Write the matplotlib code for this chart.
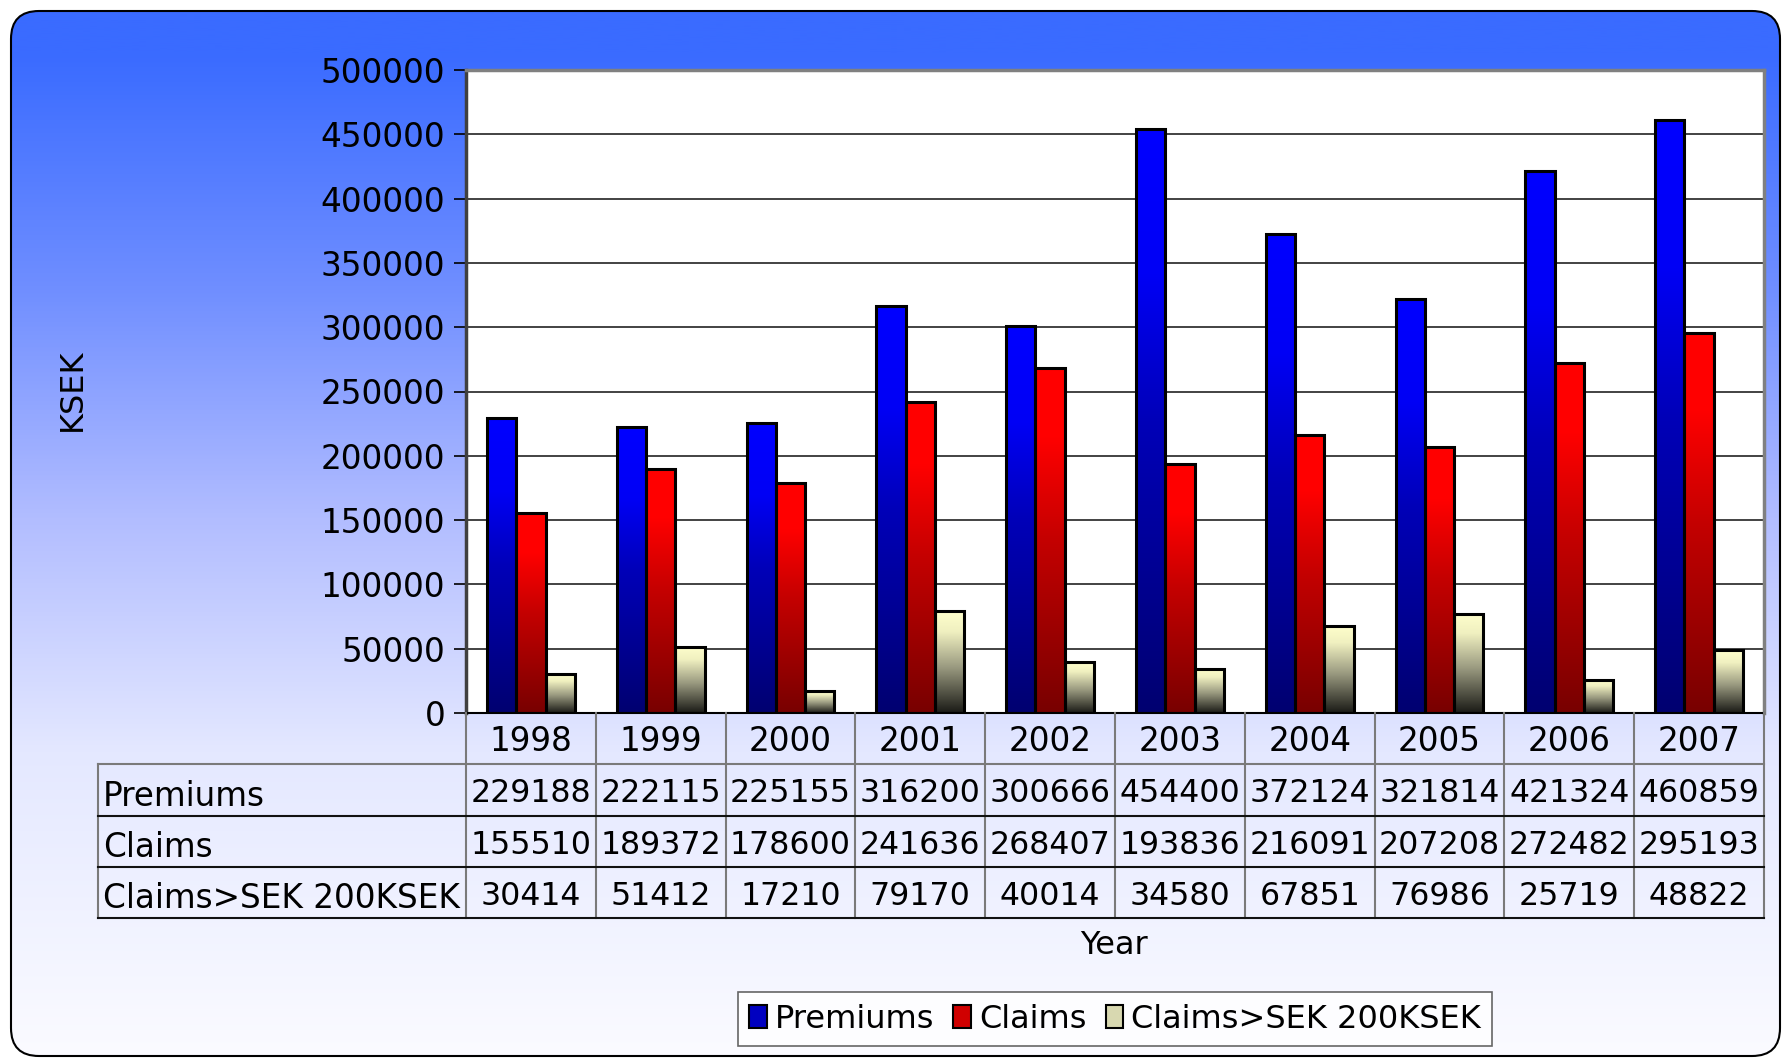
import numpy as np
import matplotlib
matplotlib.use('Agg')
import matplotlib.pyplot as plt
from matplotlib.colors import LinearSegmentedColormap
from matplotlib.patches import FancyBboxPatch, Patch
import matplotlib.transforms as mtransforms

years = ['1998', '1999', '2000', '2001', '2002', '2003', '2004', '2005', '2006', '2007']
series = ['Premiums', 'Claims', 'Claims>SEK 200KSEK']
premiums = [229188, 222115, 225155, 316200, 300666, 454400, 372124, 321814, 421324, 460859]
claims = [155510, 189372, 178600, 241636, 268407, 193836, 216091, 207208, 272482, 295193]
claims_big = [30414, 51412, 17210, 79170, 40014, 34580, 67851, 76986, 25719, 48822]
yticks = list(range(0, 500001, 50000))

W, H = 1782, 1059
plt.rcParams['font.family'] = ['DejaVu Sans']
fig = plt.figure(figsize=(W / 100, H / 100), dpi=100)
fig.patch.set_facecolor('white')

# background: rounded box with blue -> white vertical gradient
bg = fig.add_axes([0, 0, 1, 1], zorder=-10)
bg.set_xlim(0, W); bg.set_ylim(H, 0); bg.axis('off')
bg_cmap = LinearSegmentedColormap.from_list('bg', [
    (0.0, '#3a6bff'), (0.05, '#3a6bff'), (0.27, '#6f8eff'),
    (0.49, '#b2bdff'), (0.71, '#e4e8ff'), (1.0, '#fbfbff')])
grad = np.linspace(0, 1, 512).reshape(-1, 1)
im = bg.imshow(grad, cmap=bg_cmap, extent=[0, W, H, 0], aspect='auto')
box = FancyBboxPatch((11, 11), W - 13, H - 14, boxstyle='round,pad=0,rounding_size=28',
                     facecolor='none', edgecolor='black', lw=1.5)
bg.add_patch(box)
im.set_clip_path(box)

# main plot
x0, x1, ytop, ybot = 466, 1764, 70, 713
ax = fig.add_axes([x0 / W, 1 - ybot / H, (x1 - x0) / W, (ybot - ytop) / H])
ax.set_facecolor('white')
ax.set_xlim(-0.5, len(years) - 0.5)
ax.set_ylim(0, 500000)
ax.set_yticks(yticks)
ax.set_yticklabels([str(v) for v in yticks], fontsize=23.5)
ax.set_xticks([])
ax.tick_params(axis='y', direction='out', length=9, width=1.2, pad=6)
ax.grid(axis='y', color='#222222', lw=1.2)
ax.set_axisbelow(True)
for s in ['top', 'right', 'left']:
    ax.spines[s].set_color('#808080')
    ax.spines[s].set_linewidth(2.5)
ax.spines['left'].set_color('#404040')
ax.spines['bottom'].set_color('black')
ax.spines['bottom'].set_linewidth(1.5)

cmaps = [
    LinearSegmentedColormap.from_list('p', [(0, '#000070'), (0.5, '#0000b8'), (0.75, '#0000f5'), (1, '#0000ff')]),
    LinearSegmentedColormap.from_list('c', [(0, '#780000'), (0.5, '#c40000'), (0.8, '#ff0000'), (1, '#ff0000')]),
    LinearSegmentedColormap.from_list('b', [(0, '#1a1a16'), (0.45, '#9a9a80'), (0.8, '#f0f0c0'), (1, '#ffffcc')]),
]
bw = 0.225
xs = np.arange(len(years))
for k, vals in enumerate([premiums, claims, claims_big]):
    bars = ax.bar(xs + (k - 1) * bw, vals, width=bw, fill=False, edgecolor='black', lw=2.2, zorder=3)
    for b in bars:
        ax.imshow(grad, cmap=cmaps[k], origin='lower', aspect='auto', zorder=2,
                  extent=[b.get_x(), b.get_x() + b.get_width(), 0, b.get_height()])
ax.set_xlim(-0.5, len(years) - 0.5)
ax.set_ylim(0, 500000)

# data table under the plot
tb = 918
axt = fig.add_axes([x0 / W, 1 - tb / H, (x1 - x0) / W, (tb - ybot) / H])
axt.set_xlim(-0.5, len(years) - 0.5)
axt.set_ylim(4, 0)
axt.axis('off')
lab_left = (98 - x0) / (x1 - x0)
blend = mtransforms.blended_transform_factory(axt.transAxes, axt.transData)
for i in range(len(years) + 1):
    axt.plot([i - 0.5, i - 0.5], [0, 4], color='#7a7a7a', lw=1.5, clip_on=False)
axt.plot([lab_left, lab_left], [1, 4], color='#7a7a7a', lw=1.5, transform=blend, clip_on=False)
axt.plot([lab_left, 0], [1, 1], color='#7a7a7a', lw=1.5, transform=blend, clip_on=False)
axt.plot([0, 1], [1, 1], color='#7a7a7a', lw=1.5, transform=blend, clip_on=False)
for r in [2, 3, 4]:
    axt.plot([lab_left, 1], [r, r], color='#111111', lw=1.5, transform=blend, clip_on=False)
for i, y in enumerate(years):
    axt.text(i, 0.55, y, ha='center', va='center', fontsize=23.5)
for r, (name, vals) in enumerate(zip(series, [premiums, claims, claims_big])):
    axt.text(lab_left + 5 / (x1 - x0), r + 1.62, name, ha='left', va='center', fontsize=23.5,
             transform=blend)
    for i, v in enumerate(vals):
        axt.text(i, r + 1.58, str(v), ha='center', va='center', fontsize=22.8)

fig.text(72 / W, 1 - 390 / H, 'KSEK', rotation=90, ha='center', va='center', fontsize=23)
fig.text(1114 / W, 1 - 946 / H, 'Year', ha='center', va='center', fontsize=23)

handles = [Patch(facecolor=c, edgecolor='black', lw=1.5) for c in ['#0000c0', '#d00000', '#d8d8b0']]
leg = fig.legend(handles, series, loc='center', bbox_to_anchor=(1115 / W, 1 - 1019 / H),
                 ncol=3, frameon=True, fancybox=False, edgecolor='#404040',
                 handlelength=0.55, handleheight=0.7, handletextpad=0.25, columnspacing=0.6,
                 borderpad=0.35, borderaxespad=0,
                 prop={'family': ['DejaVu Sans'], 'size': 23})
leg.get_frame().set_linewidth(1.2)

fig.savefig('out.png', dpi=100, facecolor='white')
